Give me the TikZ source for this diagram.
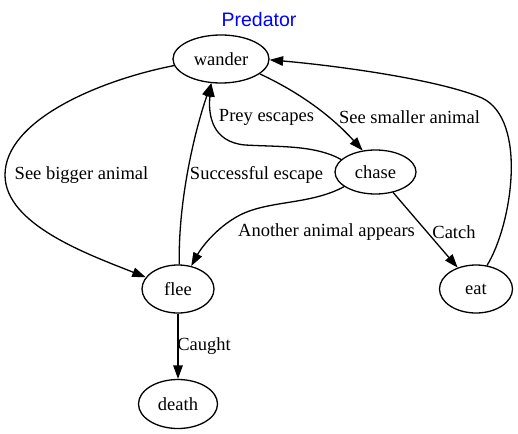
\documentclass[tikz,border=0pt]{standalone}
\usepackage{fontspec}
\setmainfont{Liberation Serif}
\newfontfamily\titlefont{Liberation Sans}
\usetikzlibrary{shapes.geometric,arrows.meta}
\begin{document}
\begin{tikzpicture}[x=1pt,y=-1pt,
  state/.style={draw,ellipse,line width=1.3pt,inner sep=0pt,minimum height=48pt,font=\fontsize{18.5}{20}\selectfont},
  lbl/.style={inner sep=0pt,font=\fontsize{18.5}{20}\selectfont},
  edge/.style={line width=1.3pt,-{Triangle[length=13.5pt,width=9.5pt]}}]
\useasboundingbox (0,0) rectangle (518,433);
\node[text=blue,font=\titlefont\fontsize{19.5}{21}\selectfont] (title) at (259,20) {Predator};
\node[state,minimum width=96pt] (wander) at (221,59) {wander};
\node[state,minimum width=81pt,minimum height=44pt] (chase) at (375.5,172) {chase};
\node[state,minimum width=72pt] (flee) at (178,289) {flee};
\node[state,minimum width=73pt] (eat) at (476,289) {eat};
\node[state,minimum width=79pt,minimum height=49pt] (death) at (178,404) {death};
% edges
\draw[edge] (wander.-21) .. controls (305,95) and (335,120) .. (chase.121);
\draw[edge] (chase.160) .. controls (315,145) and (280,147) .. (245,145) .. controls (212,142) and (208,115) .. (wander.-112);
\draw[edge] (wander.188) .. controls (100,80) and (5,120) .. (5,175) .. controls (5,225) and (90,255) .. (flee.160);
\draw[edge] (flee.87) .. controls (178,200) and (195,130) .. (wander.-112);
\draw[edge] (chase.205) .. controls (310,205) and (270,200) .. (240,215) .. controls (215,228) and (200,250) .. (flee.60);
\draw[edge] (chase) -- (eat);
\draw[edge] (eat.65) .. controls (512,225) and (528,120) .. (482,98) .. controls (440,80) and (340,66) .. (wander.-1);
\draw[edge] (flee) -- (death);
% labels
\node[lbl] (l1) at (409.5,117) {See smaller animal};
\node[lbl] (l2) at (266.5,117) {Prey escapes};
\node[lbl] (l3) at (81.5,175) {See bigger animal};
\node[lbl] (l4) at (256.5,175) {Successful escape};
\node[lbl] (l5) at (326.5,232) {Another animal appears};
\node[lbl] (l6) at (454,232) {Catch};
\node[lbl] (l7) at (204,346) {Caught};
\end{tikzpicture}
\end{document}
